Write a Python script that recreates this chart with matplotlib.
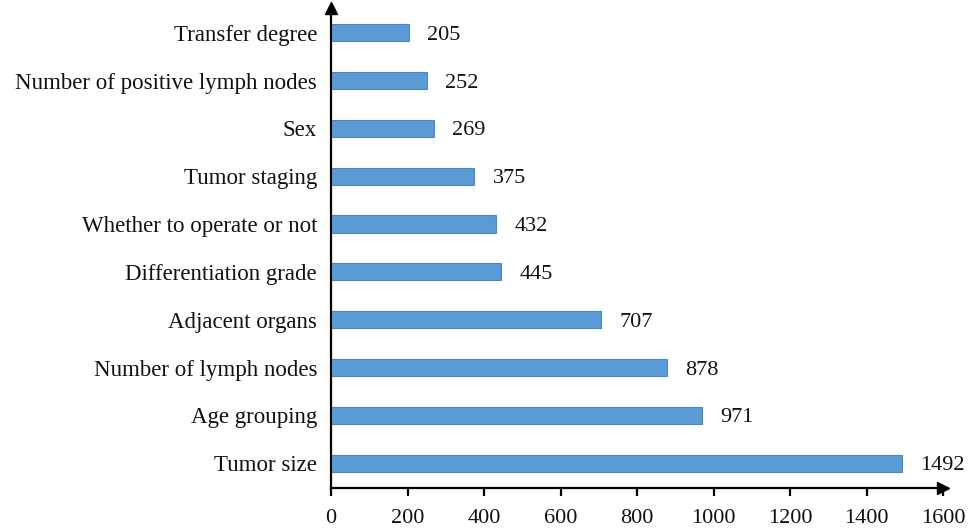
import matplotlib
matplotlib.use("Agg")
import matplotlib.pyplot as plt

categories = [
    "Tumor size",
    "Age grouping",
    "Number of lymph nodes",
    "Adjacent organs",
    "Differentiation grade",
    "Whether to operate or not",
    "Tumor staging",
    "Sex",
    "Number of positive lymph nodes",
    "Transfer degree",
]
values = [1492, 971, 878, 707, 445, 432, 375, 269, 252, 205]
x_ticks = [0, 200, 400, 600, 800, 1000, 1200, 1400, 1600]

plt.rcParams["font.family"] = ["Liberation Serif", "DejaVu Serif"]

fig = plt.figure(figsize=(9.69, 5.29), dpi=100)
ax = fig.add_axes([0.3416, 0.0775, 0.9732 - 0.3416, 0.985 - 0.0775])

ypos = list(range(len(categories)))
ax.barh(ypos, values, height=0.36, color="#5b9bd5",
        edgecolor="#4a88c4", linewidth=0.8, zorder=2)

for y, v in zip(ypos, values):
    ax.annotate(str(v), xy=(v, y), xytext=(13, 0), textcoords="offset points",
                va="center_baseline", ha="left", fontsize=16, color="#111111")

ax.set_xlim(0, 1600)
ax.set_ylim(-0.52, len(categories) - 0.48)
ax.set_yticks(ypos)
ax.set_yticklabels(categories, fontsize=16.5, color="#111111", va="center_baseline")
ax.set_xticks(x_ticks)
ax.set_xticklabels([str(t) for t in x_ticks], fontsize=16, color="#111111")

for side in ("top", "right"):
    ax.spines[side].set_visible(False)
for side in ("left", "bottom"):
    ax.spines[side].set_linewidth(1.6)
    ax.spines[side].set_color("black")

ax.tick_params(axis="y", length=0, pad=10)
ax.tick_params(axis="x", direction="out", length=6, width=1.6, pad=9)

# arrowheads at the ends of both axes
ax.plot(1, 0, marker=">", markersize=9, color="black",
        transform=ax.transAxes, clip_on=False, zorder=5)
ax.plot(0, 1, marker="^", markersize=9, color="black",
        transform=ax.transAxes, clip_on=False, zorder=5)

fig.savefig("out.png", dpi=100)
